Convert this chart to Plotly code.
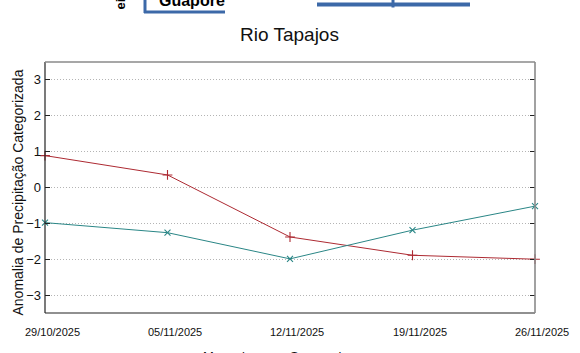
import plotly.graph_objects as go

# Weekly dates of the forecast series
dates = ["2025-10-29", "2025-11-05", "2025-11-12", "2025-11-19", "2025-11-26"]
date_labels = ["29/10/2025", "05/11/2025", "12/11/2025", "19/11/2025", "26/11/2025"]

# Categorised precipitation anomaly
mensal = [0.89, 0.35, -1.38, -1.89, -2.0]
semanal = [-0.98, -1.26, -1.99, -1.19, -0.52]

y_ticks = [-3, -2, -1, 0, 1, 2, 3]

W, H = 580, 353
ML, MR, MT, MB = 45, 45, 62, 40
PW, PH = W - ML - MR, H - MT - MB

RED = "#ad2a32"
TEAL = "#2a8686"
BLUE = "#3c69a8"
SANS = "Liberation Sans, Arial, sans-serif"
NARROW = "Liberation Sans Narrow, Arial Narrow, Liberation Sans, sans-serif"


def px(x):
    return (x - ML) / PW


def py(y):
    return (H - MB - y) / PH


fig = go.Figure()
fig.add_trace(go.Scatter(
    x=dates, y=mensal, name="Mensal", mode="lines+markers",
    line=dict(color=RED, width=1),
    marker=dict(symbol="cross-thin", size=7, line=dict(color=RED, width=1.1)),
    cliponaxis=False,
))
fig.add_trace(go.Scatter(
    x=dates, y=semanal, name="Semanal", mode="lines+markers",
    line=dict(color=TEAL, width=1),
    marker=dict(symbol="x-thin", size=6, line=dict(color=TEAL, width=1.1)),
    cliponaxis=False,
))

shapes = [
    # plot border: dark left/bottom, grey top/right
    dict(type="line", xref="paper", yref="paper", x0=0, x1=0, y0=0, y1=1,
         line=dict(color="#222222", width=1.2)),
    dict(type="line", xref="paper", yref="paper", x0=0, x1=1, y0=0, y1=0,
         line=dict(color="#222222", width=1.2)),
    dict(type="line", xref="paper", yref="paper", x0=0, x1=1, y0=1, y1=1,
         line=dict(color="#8a8a8a", width=1.6)),
    dict(type="line", xref="paper", yref="paper", x0=1, x1=1, y0=0, y1=1,
         line=dict(color="#8a8a8a", width=1.6)),
    # neighbouring panel above: framed label and bar
    dict(type="line", xref="paper", yref="paper", x0=px(145), x1=px(145), y0=py(-2), y1=py(13),
         line=dict(color=BLUE, width=3)),
    dict(type="line", xref="paper", yref="paper", x0=px(144), x1=px(225), y0=py(12), y1=py(12),
         line=dict(color=BLUE, width=3)),
    dict(type="line", xref="paper", yref="paper", x0=px(317), x1=px(470), y0=py(4.5), y1=py(4.5),
         line=dict(color=BLUE, width=4)),
    dict(type="line", xref="paper", yref="paper", x0=px(393), x1=px(393), y0=py(-2), y1=py(7.5),
         line=dict(color=BLUE, width=3)),
]

annotations = [
    dict(text="Rio Tapajos", xref="paper", yref="paper", x=px(289.5), y=py(34),
         xanchor="center", yanchor="middle", showarrow=False,
         font=dict(family=SANS, size=19, color="#111111")),
    dict(text="Anomalia de Precipitação Categorizada", xref="paper", yref="paper",
         x=px(17), y=py(192.5), xanchor="center", yanchor="middle", textangle=-90,
         showarrow=False, font=dict(family=SANS, size=14, color="#111111")),
    dict(text="Mensal", xref="paper", yref="paper", x=px(224), y=py(347),
         xanchor="center", yanchor="top", showarrow=False,
         font=dict(family=SANS, size=13, color="#111111")),
    dict(text="Semanal", xref="paper", yref="paper", x=px(315), y=py(347),
         xanchor="center", yanchor="top", showarrow=False,
         font=dict(family=SANS, size=13, color="#111111")),
    dict(text="<b>Guapore</b>", xref="paper", yref="paper", x=px(157), y=py(0),
         xanchor="left", yanchor="middle", showarrow=False,
         font=dict(family=SANS, size=16, color="#000000")),
    dict(text="<b>ei</b>", xref="paper", yref="paper", x=px(120.5), y=py(4),
         xanchor="center", yanchor="middle", textangle=-90, showarrow=False,
         font=dict(family=SANS, size=13, color="#000000")),
]

# date labels sit slightly right of their ticks
for d, lab in zip(dates, date_labels):
    annotations.append(dict(
        text=lab, xref="x", yref="paper", x=d, y=py(332), xshift=7,
        xanchor="center", yanchor="middle", showarrow=False,
        font=dict(family=NARROW, size=11, color="#111111"),
    ))

fig.update_layout(
    width=W, height=H,
    margin=dict(l=ML, r=MR, t=MT, b=MB),
    paper_bgcolor="white", plot_bgcolor="white",
    showlegend=False,
    shapes=shapes,
    annotations=annotations,
    xaxis=dict(
        type="date", range=[dates[0], dates[-1]],
        tickmode="array", tickvals=dates, showticklabels=False,
        showgrid=False, zeroline=False, showline=False, ticks="",
    ),
    yaxis=dict(
        range=[-3.5, 3.5], tickmode="array", tickvals=y_ticks,
        showgrid=True, gridcolor="#b4b4b4", gridwidth=1, griddash="1px,2px",
        zeroline=False, showline=False,
        ticks="inside", ticklen=5, tickcolor="#222222", mirror="ticks",
        ticklabelstandoff=3,
        tickfont=dict(family=SANS, size=13, color="#111111"),
    ),
)

fig.write_html("out.html")
